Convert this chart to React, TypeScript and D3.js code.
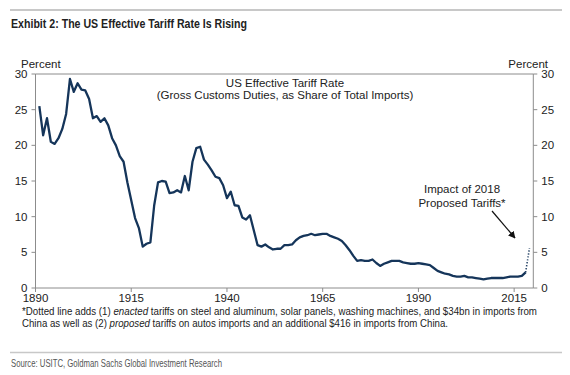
import React from "react";
import * as d3 from "d3";

const years: number[] = d3.range(1891, 2019);
const tariffRate: number[] = [
  25.5, 21.4, 23.8, 20.5, 20.2, 21.0, 22.3, 24.4, 29.3, 27.5, // 1891-1900
  28.7, 27.8, 27.7, 26.5, 23.8, 24.1, 23.3, 23.8, 22.8, 21.0, // 1901-1910
  20.0, 18.5, 17.7, 14.8, 12.3, 9.8, 8.4, 5.8, 6.2, 6.4, // 1911-1920
  11.6, 14.8, 15.0, 14.9, 13.3, 13.4, 13.7, 13.4, 15.7, 13.7, // 1921-1930
  17.7, 19.6, 19.8, 18.0, 17.3, 16.5, 15.6, 15.4, 14.4, 12.6, // 1931-1940
  13.5, 11.6, 11.5, 9.9, 9.6, 10.2, 8.1, 6.0, 5.8, 6.1, // 1941-1950
  5.7, 5.4, 5.5, 5.5, 6.0, 6.0, 6.1, 6.7, 7.1, 7.3, // 1951-1960
  7.4, 7.6, 7.4, 7.5, 7.6, 7.6, 7.3, 7.1, 6.9, 6.6, // 1961-1970
  6.0, 5.3, 4.5, 3.8, 3.9, 3.8, 3.8, 4.0, 3.5, 3.1, // 1971-1980
  3.4, 3.6, 3.8, 3.8, 3.8, 3.6, 3.5, 3.4, 3.4, 3.5, // 1981-1990
  3.4, 3.3, 3.2, 2.8, 2.4, 2.2, 2.0, 1.9, 1.7, 1.6, // 1991-2000
  1.6, 1.7, 1.5, 1.5, 1.4, 1.3, 1.2, 1.3, 1.4, 1.4, // 2001-2010
  1.4, 1.4, 1.5, 1.6, 1.6, 1.6, 1.7, 2.2, // 2011-2018
];
const proposedYears: number[] = [2018, 2019];
const proposedRate: number[] = [2.2, 5.6];

const xTicks: number[] = [1890, 1915, 1940, 1965, 1990, 2015];
const yTicks: number[] = [0, 5, 10, 15, 20, 25, 30];

const titleText = "Exhibit 2: The US Effective Tariff Rate Is Rising";
const chartTitle1 = "US Effective Tariff Rate";
const chartTitle2 = "(Gross Customs Duties, as Share of Total Imports)";
const annot1 = "Impact of 2018";
const annot2 = "Proposed Tariffs*";
const sourceText = "Source: USITC, Goldman Sachs Global Investment Research";

const W = 570;
const H = 375;
const left = 35.5;
const right = 533.3;
const top = 74;
const bottom = 288;

export default function App() {
  const x = d3.scaleLinear().domain([1890, 2020]).range([left, right]);
  const y = d3.scaleLinear().domain([0, 30]).range([bottom, top]);
  const line = d3
    .line<[number, number]>()
    .x((d) => x(d[0]))
    .y((d) => y(d[1]));
  const solid = line(years.map((yr, i) => [yr, tariffRate[i]] as [number, number]));
  const dotted = line(proposedYears.map((yr, i) => [yr, proposedRate[i]] as [number, number]));

  const sans = "'Liberation Sans', Arial, sans-serif";
  const narrow = "'Liberation Sans Narrow', 'Arial Narrow', 'Liberation Sans', sans-serif";
  const axisColor = "#8c8c8c";
  const lineColor = "#15355a";

  return (
    <svg
      width={W}
      height={H}
      style={{ position: "absolute", left: 0, top: 0, background: "#fff" }}
    >
      <defs>
        <marker id="arrow" viewBox="0 0 10 10" refX="9" refY="5" markerWidth="6" markerHeight="6" orient="auto">
          <path d="M0,0 L10,5 L0,10 z" fill="#111" />
        </marker>
      </defs>
      <rect x={0} y={0} width={W} height={H} fill="#fff" />
      {/* top rule */}
      <line x1={10} x2={562} y1={10} y2={10} stroke="#c8c8c8" strokeWidth={2} />
      <text x={11} y={28} fontFamily={narrow} fontWeight="bold" fontSize={12.5} fill="#222" textLength={236} lengthAdjust="spacingAndGlyphs">
        {titleText}
      </text>

      {/* axis labels */}
      <text x={21} y={68} fontFamily={sans} fontSize={11.5} fill="#222">Percent</text>
      <text x={548} y={68} fontFamily={sans} fontSize={11.5} fill="#222" textAnchor="end">Percent</text>

      {/* frame */}
      <line x1={left} x2={right} y1={top} y2={top} stroke={axisColor} strokeWidth={1} />
      <line x1={left} x2={left} y1={top} y2={bottom} stroke={axisColor} strokeWidth={1} />
      <line x1={right} x2={right} y1={top} y2={bottom} stroke={axisColor} strokeWidth={1} />
      <line x1={left} x2={right} y1={bottom} y2={bottom} stroke={axisColor} strokeWidth={1} />

      {yTicks.map((t) => (
        <g key={"y" + t}>
          <line x1={left - 4} x2={left} y1={y(t)} y2={y(t)} stroke={axisColor} />
          <line x1={right} x2={right + 4} y1={y(t)} y2={y(t)} stroke={axisColor} />
          <text x={left - 8} y={y(t) + 4} fontFamily={sans} fontSize={11.5} fill="#222" textAnchor="end">{t}</text>
          <text x={right + 8} y={y(t) + 4} fontFamily={sans} fontSize={11.5} fill="#222">{t}</text>
        </g>
      ))}
      {xTicks.map((t) => (
        <g key={"x" + t}>
          <line x1={x(t)} x2={x(t)} y1={bottom} y2={bottom + 4} stroke={axisColor} />
          <text x={x(t)} y={bottom + 14} fontFamily={sans} fontSize={11.5} fill="#222" textAnchor="middle">{t}</text>
        </g>
      ))}

      {/* chart title */}
      <text x={285} y={87} fontFamily={sans} fontSize={11.5} fill="#222" textAnchor="middle">{chartTitle1}</text>
      <text x={285} y={99} fontFamily={sans} fontSize={11.5} fill="#222" textAnchor="middle">{chartTitle2}</text>

      {/* series */}
      <path d={solid ?? ""} fill="none" stroke={lineColor} strokeWidth={2.3} strokeLinejoin="round" />
      <path d={dotted ?? ""} fill="none" stroke={lineColor} strokeWidth={1.6} strokeDasharray="1.2,1.8" />

      {/* annotation */}
      <text x={462} y={193} fontFamily={sans} fontSize={11.5} fill="#222" textAnchor="middle">{annot1}</text>
      <text x={462} y={207} fontFamily={sans} fontSize={11.5} fill="#222" textAnchor="middle">{annot2}</text>
      <line x1={492} y1={211} x2={515} y2={238} stroke="#111" strokeWidth={1.2} markerEnd="url(#arrow)" />

      {/* footnote */}
      <text x={22} y={315} fontFamily={sans} fontSize={10.5} fill="#222" textLength={515} lengthAdjust="spacingAndGlyphs">
        *Dotted line adds (1) <tspan fontStyle="italic">enacted</tspan> tariffs on steel and aluminum, solar panels, washing machines, and $34bn in imports from
      </text>
      <text x={22} y={327} fontFamily={sans} fontSize={10.5} fill="#222" textLength={426} lengthAdjust="spacingAndGlyphs">
        China as well as (2) <tspan fontStyle="italic">proposed</tspan> tariffs on autos imports and an additional $416 in imports from China.
      </text>

      {/* bottom rule and source */}
      <line x1={10} x2={562} y1={352.5} y2={352.5} stroke="#c8c8c8" strokeWidth={1.5} />
      <text x={11} y={367} fontFamily={narrow} fontSize={10.5} fill="#555" textLength={211} lengthAdjust="spacingAndGlyphs">
        {sourceText}
      </text>
    </svg>
  );
}
